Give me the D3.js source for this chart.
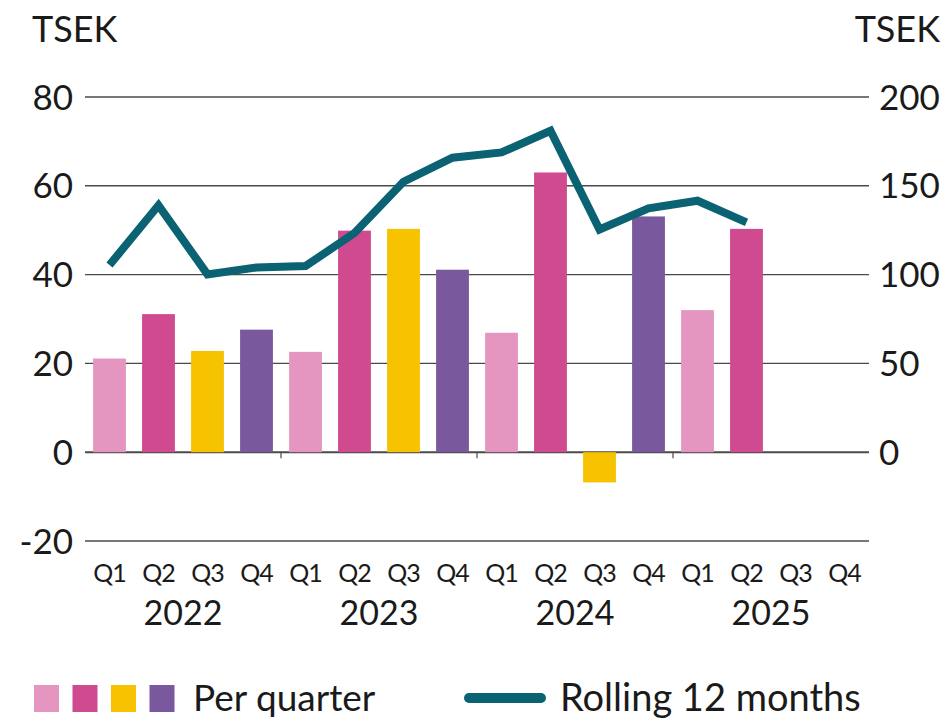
<!DOCTYPE html>
<html>
<head>
<meta charset="utf-8">
<script src="https://cdn.jsdelivr.net/npm/d3@7"></script>
<style>
  body { margin: 0; background: #fff; }
  svg text { font-family: Lato, "Open Sans", sans-serif; fill: #1a1a1a; }
</style>
</head>
<body>
<div id="chart"></div>
<script>
// chart data
var years = ["2022", "2023", "2024", "2025"];
var quarterNames = ["Q1", "Q2", "Q3", "Q4"];
var perQuarter = [21.1, 31.1, 22.8, 27.6, 22.6, 49.9, 50.3, 41.1, 26.9, 63.0, -6.8, 53.1, 32.0, 50.3, null, null];
var rolling12 = [105.4, 139, 100.1, 104, 104.8, 123.4, 152.3, 165.8, 168.8, 181, 125.4, 137.3, 141.6, 129.4, null, null];
var leftTicks = [-20, 0, 20, 40, 60, 80];
var rightTicks = [0, 50, 100, 150, 200];

var width = 947, height = 718;
var plotLeft = 85, plotRight = 869, plotTop = 97, plotBottom = 541;

var quarterColors = ["#e596c0", "#d04a90", "#f7c200", "#7a589e"];
var lineColor = "#0b6272";

// one entry per quarter
var periods = [];
years.forEach(function(y) {
	quarterNames.forEach(function(q) {
		periods.push({ key: y + q, year: y, q: q });
	});
});

var svg = d3.select("#chart").append("svg")
	.attr("width", width)
	.attr("height", height);

var x = d3.scaleBand()
	.domain(periods.map(function(d) { return d.key; }))
	.range([plotLeft, plotRight])
	.paddingInner(0.33)
	.paddingOuter(0.165);

var yL = d3.scaleLinear().domain([-20, 80]).range([plotBottom, plotTop]);
var yR = d3.scaleLinear().domain([-50, 200]).range([plotBottom, plotTop]);

// gridlines
svg.append("g").selectAll("line")
	.data(leftTicks)
	.enter().append("line")
	.attr("x1", plotLeft).attr("x2", plotRight)
	.attr("y1", function(d) { return yL(d); })
	.attr("y2", function(d) { return yL(d); })
	.attr("stroke", "#4a4a4a")
	.attr("stroke-width", function(d) { return d === 0 ? 2 : 1.4; });

// left axis labels
svg.append("g").selectAll("text")
	.data(leftTicks)
	.enter().append("text")
	.attr("x", 73)
	.attr("y", function(d) { return yL(d); })
	.attr("dy", "0.36em")
	.attr("text-anchor", "end")
	.style("font-size", "35px")
	.text(function(d) { return d; });

// right axis labels
svg.append("g").selectAll("text")
	.data(rightTicks)
	.enter().append("text")
	.attr("x", 879)
	.attr("y", function(d) { return yR(d); })
	.attr("dy", "0.36em")
	.attr("text-anchor", "start")
	.style("font-size", "35px")
	.text(function(d) { return d; });

svg.append("text").attr("x", 32).attr("y", 42)
	.style("font-size", "36px").text("TSEK");
svg.append("text").attr("x", 940).attr("y", 42)
	.attr("text-anchor", "end")
	.style("font-size", "36px").text("TSEK");

// bars
svg.append("g").selectAll("rect")
	.data(periods.filter(function(d, i) { return perQuarter[i] !== null; }))
	.enter().append("rect")
	.attr("x", function(d) { return x(d.key); })
	.attr("width", x.bandwidth())
	.attr("y", function(d) { return yL(Math.max(0, perQuarter[periods.indexOf(d)])); })
	.attr("height", function(d) { return Math.abs(yL(perQuarter[periods.indexOf(d)]) - yL(0)); })
	.attr("fill", function(d) { return quarterColors[quarterNames.indexOf(d.q)]; });

// year separator ticks on the zero line
var step = x.step();
svg.append("g").selectAll("line")
	.data(years.slice(1))
	.enter().append("line")
	.attr("x1", function(d, i) { return plotLeft + (i + 1) * 4 * step; })
	.attr("x2", function(d, i) { return plotLeft + (i + 1) * 4 * step; })
	.attr("y1", yL(0))
	.attr("y2", yL(0) + 6)
	.attr("stroke", "#4a4a4a")
	.attr("stroke-width", 1.2);

// rolling 12 months line
var line = d3.line()
	.defined(function(d, i) { return rolling12[i] !== null; })
	.x(function(d) { return x(d.key) + x.bandwidth() / 2; })
	.y(function(d, i) { return yR(rolling12[i]); });

svg.append("path")
	.datum(periods)
	.attr("d", line)
	.attr("fill", "none")
	.attr("stroke", lineColor)
	.attr("stroke-width", 8)
	.attr("stroke-linejoin", "miter");

// quarter labels
svg.append("g").selectAll("text")
	.data(periods)
	.enter().append("text")
	.attr("x", function(d) { return x(d.key) + x.bandwidth() / 2; })
	.attr("y", 582)
	.attr("text-anchor", "middle")
	.style("font-size", "25px")
	.style("letter-spacing", "-1px")
	.text(function(d) { return d.q; });

// year labels
svg.append("g").selectAll("text")
	.data(years)
	.enter().append("text")
	.attr("x", function(d, i) { return plotLeft + (i * 4 + 2) * step; })
	.attr("y", 625)
	.attr("text-anchor", "middle")
	.style("font-size", "34px")
	.text(function(d) { return d; });

// legend
var legend = svg.append("g");
legend.selectAll("rect")
	.data(quarterColors)
	.enter().append("rect")
	.attr("x", function(d, i) { return 34 + i * 38.5; })
	.attr("y", 685)
	.attr("width", 25)
	.attr("height", 27)
	.attr("fill", function(d) { return d; });

legend.append("text").attr("x", 193).attr("y", 711)
	.style("font-size", "37px").text("Per quarter");

legend.append("line")
	.attr("x1", 469).attr("x2", 541)
	.attr("y1", 698).attr("y2", 698)
	.attr("stroke", lineColor)
	.attr("stroke-width", 10)
	.attr("stroke-linecap", "round");

legend.append("text").attr("x", 560).attr("y", 711)
	.style("font-size", "38px").text("Rolling 12 months");
</script>
</body>
</html>
